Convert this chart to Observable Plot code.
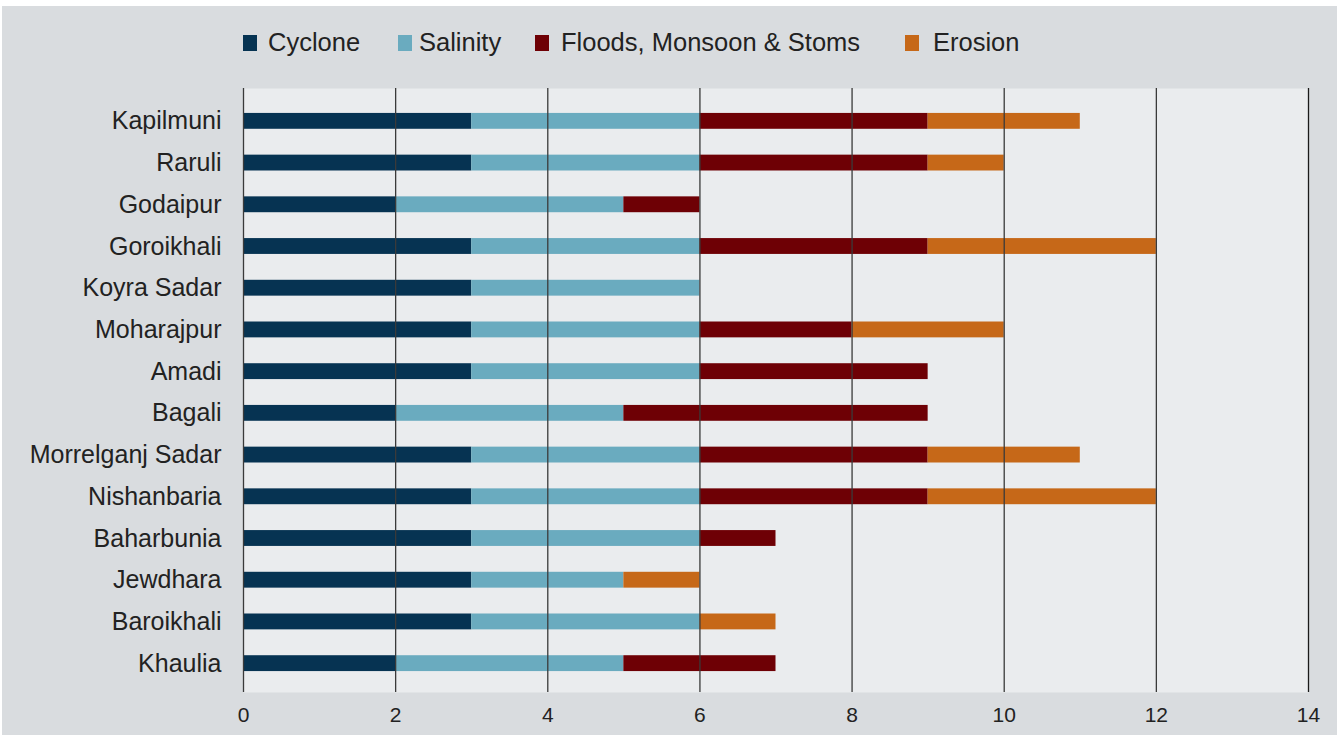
<!DOCTYPE html>
<html><head><meta charset="utf-8">
<script src="https://cdn.jsdelivr.net/npm/d3@7"></script>
<script src="https://cdn.jsdelivr.net/npm/@observablehq/plot@0.6"></script>
<style>
body{margin:0;background:#fff;font-family:"Liberation Sans",Arial,sans-serif;}
#panel{position:absolute;left:2px;top:6px;width:1335px;height:729px;background:#d9dcdf;overflow:hidden;}
#legend{position:relative;height:62px;}
.sw{position:absolute;top:29px;width:14px;height:16px;}
.lt{position:absolute;top:22px;font-size:25.5px;line-height:28px;color:#222;white-space:nowrap;}
#chart svg{display:block;}
</style></head>
<body>
<div id="panel">
  <div id="legend"></div>
  <div id="chart"></div>
</div>
<script>
const sites = ["Kapilmuni","Raruli","Godaipur","Goroikhali","Koyra Sadar","Moharajpur","Amadi","Bagali","Morrelganj Sadar","Nishanbaria","Baharbunia","Jewdhara","Baroikhali","Khaulia"];
const cyclone  = [3,3,2,3,3,3,3,2,3,3,3,3,3,2];
const salinity = [3,3,3,3,3,3,3,3,3,3,3,2,3,3];
const floods   = [3,3,1,3,0,2,3,4,3,3,1,0,0,2];
const erosion  = [2,1,0,3,0,2,0,0,2,3,0,1,1,0];
const series = ["Cyclone","Salinity","Floods, Monsoon & Stoms","Erosion"];
const colors = ["#063352","#6aabbf","#6e0005","#c66818"];
const xTicks = [0,2,4,6,8,10,12,14];

const seriesValues = [cyclone, salinity, floods, erosion];
const data = sites.flatMap((site, i) => series.map((s, j) => ({site, series: s, value: seriesValues[j][i]})));

// legend
const legendPos = [{sw:241, tx:266},{sw:396, tx:417},{sw:533, tx:559},{sw:903, tx:931}];
const legend = document.getElementById("legend");
series.forEach((s, j) => {
  const sw = document.createElement("div");
  sw.className = "sw"; sw.style.left = legendPos[j].sw + "px"; sw.style.background = colors[j];
  const t = document.createElement("div");
  t.className = "lt"; t.style.left = legendPos[j].tx + "px"; t.textContent = s;
  legend.appendChild(sw); legend.appendChild(t);
});

const chart = Plot.plot({
  width: 1335,
  height: 667,
  marginTop: 20,
  marginBottom: 43,
  marginLeft: 241,
  marginRight: 29,
  style: {background: "transparent", color: "#222", fontFamily: "'Liberation Sans', Arial, sans-serif"},
  x: {domain: [0, 14], ticks: xTicks, label: null},
  y: {domain: sites, paddingInner: 0.62, paddingOuter: 0.31, insetTop: 12, insetBottom: 8, round: false, label: null},
  color: {domain: series, range: colors},
  marks: [
    Plot.frame({fill: "#eaecee", stroke: null}),
    Plot.barX(data, Plot.stackX({x: "value", y: "site", fill: "series", order: series})),
    Plot.ruleX(xTicks, {stroke: d => d === 14 ? "#1a1a1a" : "#3a3a3a", strokeWidth: 1.3}),
    Plot.axisX({ticks: xTicks, tickSize: 0, tickPadding: 15, fontSize: 21, label: null}),
    Plot.axisY({tickSize: 0, tickPadding: 22, fontSize: 25, label: null})
  ]
});
document.getElementById("chart").appendChild(chart);
</script>
</body></html>
